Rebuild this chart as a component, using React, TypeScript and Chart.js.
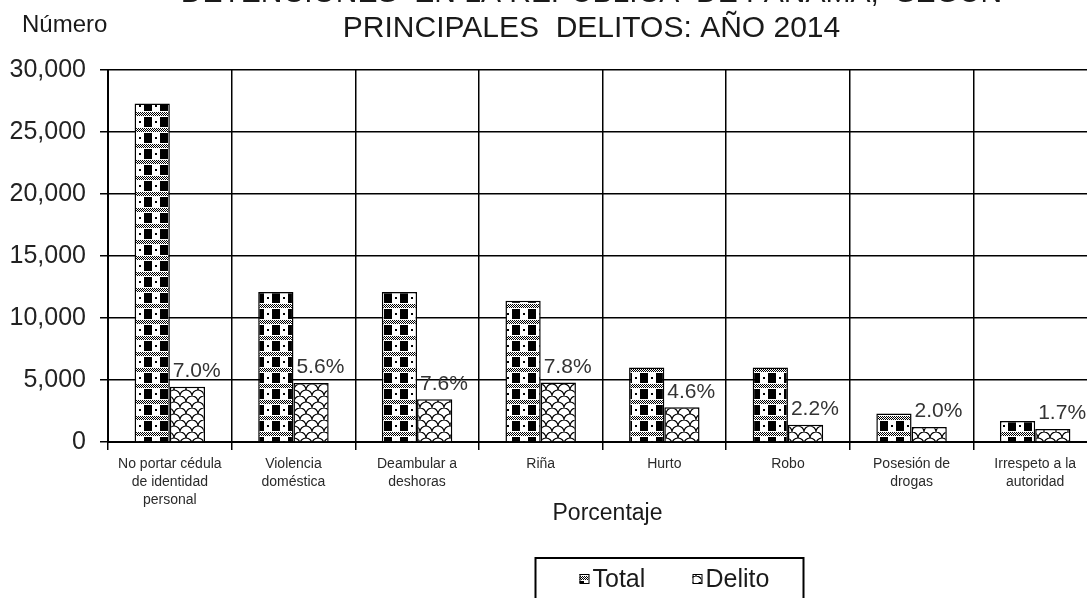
import React, { useEffect, useRef } from "react";
import { Chart, registerables } from "chart.js";

Chart.register(...registerables);

const TITLE_LINES = ["DETENCIONES  EN LA REPÚBLICA  DE PANAMÁ,  SEGÚN", "PRINCIPALES  DELITOS: AÑO 2014"];
const Y_TITLE = "Número";
const X_TITLE = "Porcentaje";
const SERIES_NAMES = ["Total", "Delito"];

const CATEGORIES: string[][] = [
  ["No portar cédula", "de identidad", "personal"],
  ["Violencia", "doméstica"],
  ["Deambular a", "deshoras"],
  ["Riña"],
  ["Hurto"],
  ["Robo"],
  ["Posesión de", "drogas"],
  ["Irrespeto a la", "autoridad"],
];

const TOTAL = [27300, 12100, 12100, 11400, 6000, 6000, 2300, 1700];
const DELITO = [4450, 4750, 3450, 4800, 2800, 1400, 1200, 1050];
const PCT_LABELS = ["7.0%", "5.6%", "7.6%", "7.8%", "4.6%", "2.2%", "2.0%", "1.7%"];

const Y_MIN = 0;
const Y_MAX = 30000;
const Y_STEP = 5000;

const FONT = '"Liberation Sans", Arial, sans-serif';

function makeTotalPattern(ctx: CanvasRenderingContext2D) {
  const c = document.createElement("canvas");
  c.width = 16;
  c.height = 16;
  const g = c.getContext("2d")!;
  g.fillStyle = "#fff";
  g.fillRect(0, 0, 16, 16);
  g.fillStyle = "#000";
  for (let y = 0; y < 4; y++) {
    for (let x = 0; x < 16; x++) {
      if ((x + y) % 2 === 0) g.fillRect(x, y, 1, 1);
    }
  }
  g.fillRect(0, 5, 8, 10);
  g.fillRect(11, 9, 2, 2);
  return ctx.createPattern(c, "repeat")!;
}

function makeDelitoPattern(ctx: CanvasRenderingContext2D) {
  const c = document.createElement("canvas");
  c.width = 12;
  c.height = 12;
  const g = c.getContext("2d")!;
  g.fillStyle = "#fff";
  g.fillRect(0, 0, 12, 12);
  g.strokeStyle = "#000";
  g.lineWidth = 1.1;
  g.beginPath();
  g.arc(6, 12, 6, Math.PI, 2 * Math.PI);
  g.stroke();
  g.beginPath();
  g.arc(0, 6, 6, Math.PI * 1.5, 2 * Math.PI);
  g.stroke();
  g.beginPath();
  g.arc(12, 6, 6, Math.PI, Math.PI * 1.5);
  g.stroke();
  g.beginPath();
  g.arc(6, 0, 6, Math.PI, 2 * Math.PI);
  g.stroke();
  return ctx.createPattern(c, "repeat")!;
}

export default function App() {
  const ref = useRef<HTMLCanvasElement | null>(null);

  useEffect(() => {
    const canvas = ref.current!;
    const ctx0 = canvas.getContext("2d")!;
    const pTotal = makeTotalPattern(ctx0);
    const pDelito = makeDelitoPattern(ctx0);

    const decor = {
      id: "decor",
      afterDatasetsDraw(chart: any) {
        const ctx = chart.ctx;
        ctx.save();
        ctx.font = `21px ${FONT}`;
        ctx.fillStyle = "#333";
        ctx.textAlign = "left";
        ctx.textBaseline = "bottom";
        const meta = chart.getDatasetMeta(1);
        meta.data.forEach((bar: any, i: number) => {
          ctx.fillText(PCT_LABELS[i], bar.x - bar.width / 2 + 3, bar.y - 5);
        });
        ctx.restore();
      },
      afterDraw(chart: any) {
        const ctx = chart.ctx;
        const ca = chart.chartArea;
        const mid = (ca.left + ca.right) / 2;
        ctx.save();
        ctx.fillStyle = "#1a1a1a";
        ctx.textBaseline = "alphabetic";
        ctx.font = `30px ${FONT}`;
        ctx.textAlign = "center";
        ctx.fillText(TITLE_LINES[0], mid - 11, 2);
        ctx.fillText(TITLE_LINES[1], mid - 11, 37);

        ctx.font = `24px ${FONT}`;
        ctx.textAlign = "left";
        ctx.fillText(Y_TITLE, 22, 32);

        ctx.textAlign = "center";
        ctx.font = `23px ${FONT}`;
        ctx.fillText(X_TITLE, mid + 5, 520);

        // legend
        const lw = 268;
        const lx = mid + 67 - lw / 2;
        const ly = 558;
        ctx.lineWidth = 2;
        ctx.strokeStyle = "#000";
        ctx.strokeRect(lx, ly, lw, 60);
        const items = [
          { name: SERIES_NAMES[0], fill: pTotal, x: lx + 44 },
          { name: SERIES_NAMES[1], fill: pDelito, x: lx + 157 },
        ];
        ctx.font = `25px ${FONT}`;
        ctx.textAlign = "left";
        items.forEach((it) => {
          ctx.fillStyle = it.fill;
          ctx.fillRect(it.x, 574, 9, 9);
          ctx.lineWidth = 1;
          ctx.strokeRect(it.x + 0.5, 574.5, 9, 9);
          ctx.fillStyle = "#1a1a1a";
          ctx.fillText(it.name, it.x + 13, 587);
        });
        ctx.restore();
      },
    };

    const chart = new Chart(canvas, {
      type: "bar",
      data: {
        labels: CATEGORIES,
        datasets: [
          {
            label: SERIES_NAMES[0],
            data: TOTAL,
            backgroundColor: pTotal as any,
            borderColor: "#000",
            borderWidth: 1.5,
            categoryPercentage: 0.57,
            barPercentage: 1.0,
          },
          {
            label: SERIES_NAMES[1],
            data: DELITO,
            backgroundColor: pDelito as any,
            borderColor: "#000",
            borderWidth: 1.5,
            categoryPercentage: 0.57,
            barPercentage: 1.0,
          },
        ],
      },
      options: {
        responsive: false,
        animation: false,
        devicePixelRatio: 1,
        layout: { padding: { top: 70, left: 0, right: 3, bottom: 0 } },
        plugins: {
          legend: { display: false },
          title: { display: false },
          tooltip: { enabled: false },
        },
        scales: {
          x: {
            afterFit: (s: any) => {
              s.height = 156;
            },
            grid: {
              offset: true,
              color: "#000",
              lineWidth: 1.5,
              tickLength: 8,
              drawTicks: true,
            },
            border: { color: "#000", width: 2 },
            ticks: {
              color: "#2a2a2a",
              font: { family: FONT, size: 14, lineHeight: 1.3 },
              padding: 5,
              maxRotation: 0,
              autoSkip: false,
            },
          },
          y: {
            min: Y_MIN,
            max: Y_MAX,
            afterFit: (s: any) => {
              s.width = 108;
            },
            grid: {
              color: "#000",
              lineWidth: 1.5,
              tickLength: 8,
            },
            border: { color: "#000", width: 2 },
            ticks: {
              stepSize: Y_STEP,
              color: "#222",
              font: { family: FONT, size: 25 },
              padding: 14,
              callback: (v: any) => Number(v).toLocaleString("en-US"),
            },
          },
        },
      },
      plugins: [decor],
    });

    return () => chart.destroy();
  }, []);

  return (
    <div
      style={{
        position: "fixed",
        left: 0,
        top: 0,
        width: 1087,
        height: 598,
        overflow: "hidden",
        background: "#fff",
      }}
    >
      <canvas ref={ref} width={1100} height={598} style={{ display: "block" }} />
    </div>
  );
}
